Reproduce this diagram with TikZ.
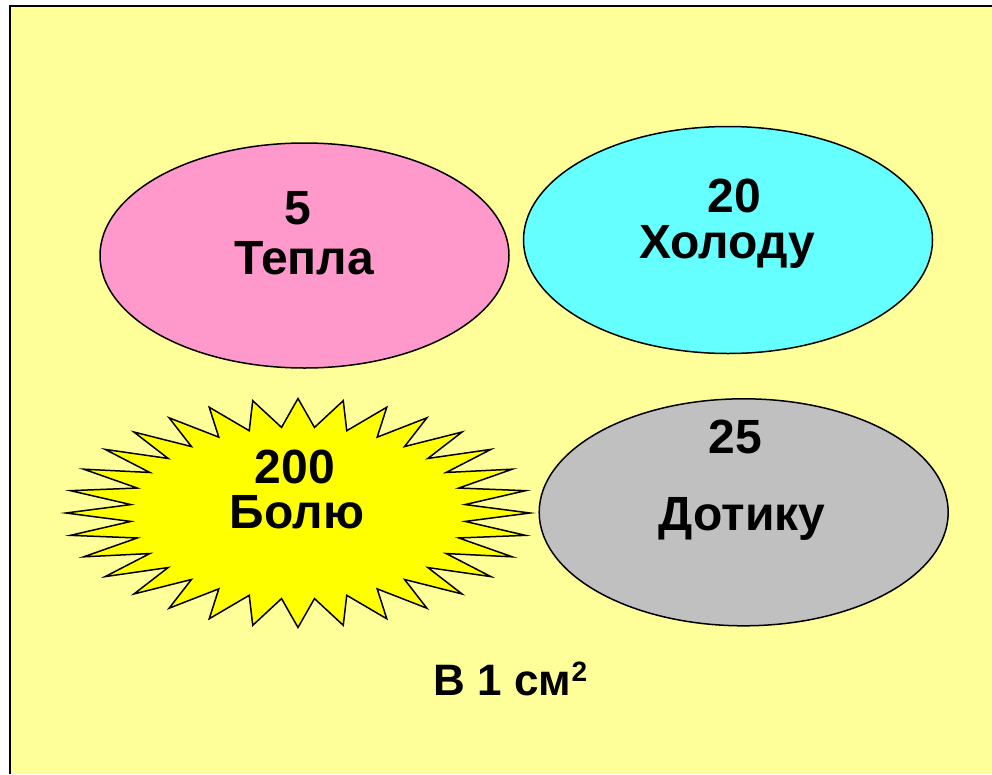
\documentclass[tikz,border=0pt]{standalone}
\usepackage{fontspec}
\setmainfont{Liberation Sans}
\usetikzlibrary{shapes.geometric}
\definecolor{slidebg}{HTML}{FFFF99}
\definecolor{warmpink}{HTML}{FF99CC}
\definecolor{coldcyan}{HTML}{66FFFF}
\definecolor{touchgray}{HTML}{C0C0C0}
\definecolor{painyellow}{HTML}{FFFF00}
\begin{document}
\begin{tikzpicture}[x=1pt,y=-1pt,
  blob/.style={ellipse, draw=black, line width=1.5pt, inner sep=0pt},
  word/.style={anchor=base, inner sep=0pt, text=black,
    font=\fontsize{48}{52}\selectfont\bfseries}]
\useasboundingbox (0,0) rectangle (992,774);
\fill[white] (0,0) rectangle (992,774);
% slide background with its frame on the left and top
\fill[slidebg] (10,6) rectangle (992,774);
\draw[line width=2pt] (10,774) -- (10,6) -- (992,6);

% receptor ovals
\node[blob, fill=warmpink, minimum width=409, minimum height=225] (warm) at (304.5,255.5) {};
\node[blob, fill=coldcyan, minimum width=409, minimum height=227] (cold) at (728,240) {};
\node[blob, fill=touchgray, minimum width=409, minimum height=227] (touch) at (743.7,512.3) {};

% 32-point burst for pain
\draw[fill=painyellow, line width=1.5pt, line join=miter]
  (66,513) \foreach \k in {1,...,63} {
    -- ({298 - (mod(\k,2)==0 ? 232 : 168)*cos(\k*5.625)},
        {513 - (mod(\k,2)==0 ? 114.5 : 86)*sin(\k*5.625)})
  } -- cycle;

% labels
\node[word] (warmnum) at (298,224) {5};
\node[word] (warmname) at (304,274) {Тепла};
\node[word] (coldnum) at (734,212) {20};
\node[word] (coldname) at (727,258.5) {Холоду};
\node[word] (touchnum) at (735,453.5) {25};
\node[word] (touchname) at (742,530) {Дотику};
\node[word] (painnum) at (295,483.5) {200};
\node[word] (painname) at (297,528.5) {Болю};
\node[word, font=\fontsize{44}{48}\selectfont\bfseries] (unit) at (510.5,695)
  {В 1 см\raisebox{14pt}{\fontsize{28}{28}\selectfont 2}};
\end{tikzpicture}
\end{document}
